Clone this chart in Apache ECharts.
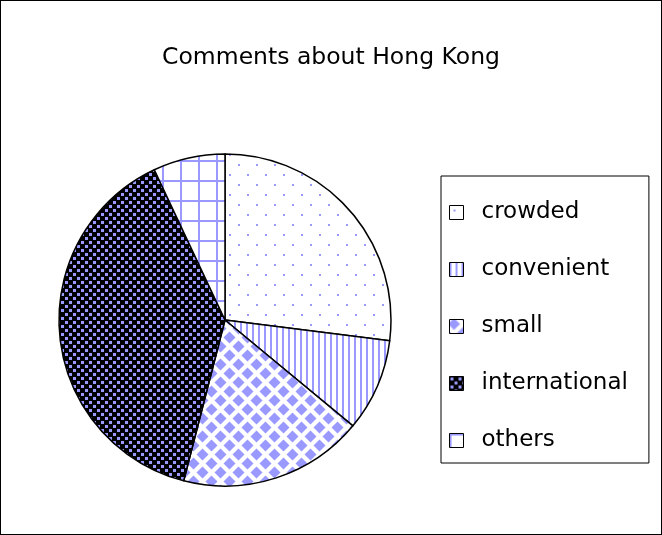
<!DOCTYPE html>
<html><head><meta charset="utf-8">
<script src="https://cdn.jsdelivr.net/npm/echarts@6/dist/echarts.min.js"></script>
<style>html,body{margin:0;padding:0;background:#fff}#c{width:662px;height:535px}
#f{position:absolute;left:0;top:0;width:660px;height:533px;border:1px solid #000;pointer-events:none}</style>
</head><body><div id="c"></div><div id="f"></div>
<script>
const titleText = 'Comments about Hong Kong';
const categories = ['crowded', 'convenient', 'small', 'international', 'others'];
const values = [27, 9, 18, 39, 7];

const LAV = '#9999FF';
function tile(w, h, draw) {
  const c = document.createElement('canvas');
  c.width = w; c.height = h;
  const g = c.getContext('2d');
  draw(g, w, h);
  return { image: c, repeat: 'repeat' };
}
const patterns = [
  tile(18, 20, (g, w, h) => { g.fillStyle = '#fff'; g.fillRect(0,0,w,h); g.fillStyle = LAV;
    g.fillRect(4,4,2,2); g.fillRect(13,14,2,2); }),
  tile(6, 6, (g, w, h) => { g.fillStyle = '#fff'; g.fillRect(0,0,w,h); g.fillStyle = LAV;
    g.fillRect(0,0,2,h); }),
  tile(18, 18, (g, w, h) => { g.fillStyle = '#fff'; g.fillRect(0,0,w,h); g.fillStyle = LAV;
    const d = (cx, cy, r) => { g.beginPath(); g.moveTo(cx, cy-r); g.lineTo(cx+r, cy); g.lineTo(cx, cy+r); g.lineTo(cx-r, cy); g.closePath(); g.fill(); };
    [[4.5,4.5],[13.5,13.5],[-4.5,13.5],[22.5,4.5],[13.5,-4.5],[4.5,22.5]].forEach(p => d(p[0], p[1], 6)); }),
  tile(8, 8, (g, w, h) => { g.fillStyle = '#000'; g.fillRect(0,0,w,h); g.fillStyle = LAV;
    g.fillRect(1,1,3,3); g.fillRect(5,5,3,3); }),
  tile(18, 20, (g, w, h) => { g.fillStyle = '#fff'; g.fillRect(0,0,w,h); g.fillStyle = LAV;
    g.fillRect(0,0,2,h); g.fillRect(0,0,w,2); })
];

const chart = echarts.init(document.getElementById('c'));
chart.setOption({
  animation: false,
  backgroundColor: '#fff',
  title: { text: titleText, left: 'center', top: 41,
    textStyle: { fontFamily: 'DejaVu Sans', fontSize: 23.5, fontWeight: 'normal', color: '#000' } },
  legend: {
    orient: 'vertical', left: 441, top: 176,
    padding: [25, 21, 11, 8],
    itemGap: 34, itemWidth: 14, itemHeight: 14, icon: 'rect',
    borderColor: '#000', borderWidth: 1, backgroundColor: '#fff',
    itemStyle: { borderColor: '#000', borderWidth: 1 },
    textStyle: { fontFamily: 'DejaVu Sans', fontSize: 23, color: '#000', padding: [0,0,0,13] },
    data: categories
  },
  series: [{
    type: 'pie', center: [225, 320], radius: 166, startAngle: 90, clockwise: true,
    label: { show: false }, labelLine: { show: false },
    itemStyle: { borderColor: '#000', borderWidth: 1.5 },
    emphasis: { disabled: true },
    data: categories.map((n, i) => ({ name: n, value: values[i], itemStyle: { color: patterns[i] } }))
  }]
});
</script></body></html>
